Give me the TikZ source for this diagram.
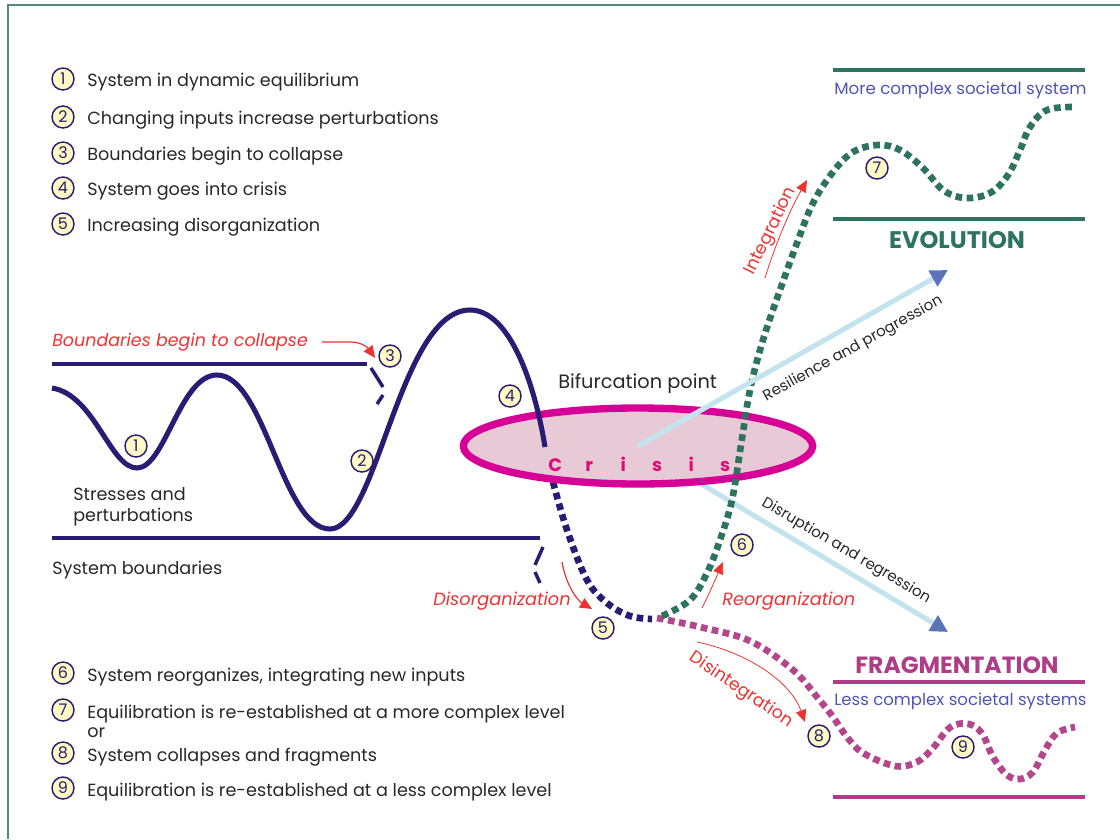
\documentclass[tikz,border=0pt]{standalone}
\usepackage{fontspec}
\setmainfont{Poppins}
\usetikzlibrary{arrows.meta,shapes.geometric}
\definecolor{navyC}{RGB}{42,28,115}
\definecolor{tealC}{RGB}{45,115,95}
\definecolor{frameC}{RGB}{80,140,125}
\definecolor{purpC}{RGB}{180,70,140}
\definecolor{redC}{RGB}{238,50,50}
\definecolor{magC}{RGB}{215,0,150}
\definecolor{pinkC}{RGB}{232,202,215}
\definecolor{crisC}{RGB}{225,10,120}
\definecolor{lblueC}{RGB}{195,228,238}
\definecolor{arrC}{RGB}{90,115,185}
\definecolor{sysC}{RGB}{80,85,180}
\definecolor{circY}{RGB}{255,250,195}
\definecolor{txtC}{RGB}{40,40,40}
\definecolor{fragC}{RGB}{175,60,135}
\tikzset{
  numc/.style={circle, draw=navyC, fill=circY, line width=1.1pt, minimum size=16.5pt, inner sep=0pt, text=navyC, font=\fontsize{12}{12}\selectfont},
  legtxt/.style={anchor=base west, inner sep=0pt, text=txtC, font=\fontsize{13.2}{16}\selectfont},
  redtxt/.style={inner sep=0pt, text=redC, font=\fontsize{13.3}{16}\selectfont\itshape},
  redarrow/.style={draw=redC, line width=0.9pt, -{Triangle[length=9pt,width=8pt]}},
  bound/.style={draw=navyC, line width=2.6pt},
  wave/.style={draw=navyC, line width=3.8pt},
  dots/.style={line width=5pt, dash pattern=on 5pt off 3.4pt},
  blarrow/.style={draw=lblueC, line width=3.8pt, -{Triangle[length=13pt,width=13pt,color=arrC]}},
  levline/.style={line width=2.6pt},
  frameline/.style={draw=frameC, line width=2pt},
  diag/.style={inner sep=0pt, text=txtC, font=\fontsize{11.3}{13}\selectfont}
}
\begin{document}
\begin{tikzpicture}[x=0.75pt,y=-0.75pt]
\useasboundingbox (0,0) rectangle (1120,839);
% frame
\draw[frameline] (1120,5) -- (8,5) -- (8,839);

% legend top
\foreach \n/\y/\t in {1/86/System in dynamic equilibrium, 2/124/Changing inputs increase perturbations, 3/160/Boundaries begin to collapse, 4/195/System goes into crisis, 5/231/Increasing disorganization}{
  \node[numc] (lc\n) at (63,\y-7) {\n};
  \node[legtxt] (lt\n) at (87,\y) {\t};
}
% legend bottom
\foreach \n/\y/\t in {6/681/{System reorganizes, integrating new inputs}, 7/718/Equilibration is re-established at a more complex level, 8/761/System collapses and fragments, 9/796/Equilibration is re-established at a less complex level}{
  \node[numc] (lc\n) at (63,\y-8) {\n};
  \node[legtxt] (lt\n) at (87,\y) {\t};
}
\node[legtxt] (ltor) at (87,737) {or};

% boundaries
\draw[bound] (52,364) -- (367,364);
\draw[bound] (371,368) -- (383,387);
\draw[bound] (383,395) -- (377,404);
\draw[bound] (52,538) -- (540,538);
\draw[bound] (543,547) -- (535,565);
\draw[bound] (535,572) -- (540,583);

% crisis ellipse node
\coordinate (cc) at (638,446);
\coordinate (tipD) at (948,632);
\coordinate (tipR) at (948,270);
\draw[blarrow] (cc) -- (tipD);

% navy dotted
\draw[dots, navyC] plot[smooth, tension=0.6] coordinates {(553,482) (567,530) (587,580) (607,603) (630,616) (652,619)};
% purple dotted
\draw[dots, purpC] plot[smooth, tension=0.6] coordinates {(657,618) (700,627) (750,641) (793,670) (817,697) (833,717) (847,737) (863,753) (895,766) (917,762) (933,748) (947,730) (958,724) (972,725) (983,735) (993,757) (1007,775) (1020,779) (1033,772) (1045,750) (1057,733) (1075,727)};

\node[ellipse, draw=magC, fill=pinkC, line width=5.5pt, minimum width=262pt, minimum height=57pt, inner sep=0pt] (crisis) at (cc) {};

% solid wave
\draw[wave] (52,388) .. controls (95,395) and (110,468) .. (137,468)
  .. controls (165,468) and (180,375) .. (217,375)
  .. controls (265,375) and (282,529) .. (330,529)
  .. controls (377,529) and (400,310) .. (470,310)
  .. controls (510,310) and (535,385) .. (545,447);

% green dotted
\draw[dots, tealC] plot[smooth, tension=0.6] coordinates {(662,616) (690,600) (707,573) (720,540) (732,500) (741,445) (750,390) (763,340) (780,290) (797,243) (813,203) (833,172) (853,152) (878,145) (900,150) (923,168) (943,190) (965,198) (990,193) (1008,175) (1020,150) (1030,127) (1047,110) (1075,107)};

\draw[blarrow] (cc) -- (tipR);

% crisis letters
\node[anchor=base west, inner sep=0pt, text=crisC, font=\fontsize{13.5}{16}\selectfont\bfseries] (crisistxt) at (538,471)
  {\makebox[25.5pt]{C}\makebox[25.5pt]{r}\makebox[25.5pt]{i}\makebox[25.5pt]{s}\makebox[25.5pt]{i}\makebox[25.5pt]{s}};
\node[legtxt, font=\fontsize{14.5}{16}\selectfont] (bif) at (558,388) {Bifurcation point};

% left labels
\node[legtxt] (str1) at (73,500) {Stresses and};
\node[legtxt] (str2) at (73,521) {perturbations};
\node[legtxt] (sysb) at (52,574) {System boundaries};
\node[redtxt, anchor=base west, font=\fontsize{13.1}{16}\selectfont\itshape] (bbc) at (52,346) {Boundaries begin to collapse};

% evolution panel
\draw[levline, tealC] (833,70) -- (1085,70);
\draw[levline, tealC] (833,219) -- (1085,219);
\node[anchor=base west, inner sep=0pt, text=sysC, font=\fontsize{12.5}{16}\selectfont] (mcs) at (834,94) {More complex societal system};
\node[anchor=base, inner sep=0pt, text=tealC, font=\fontsize{18}{20}\selectfont\bfseries] (evo) at (957,248) {EVOLUTION};

% fragmentation panel
\node[anchor=base, inner sep=0pt, text=fragC, font=\fontsize{17.6}{20}\selectfont\bfseries] (frag) at (957,673) {FRAGMENTATION};
\draw[levline, fragC] (833,682) -- (1085,682);
\draw[levline, fragC] (833,797) -- (1085,797);
\node[anchor=base west, inner sep=0pt, text=sysC, font=\fontsize{12.4}{16}\selectfont] (lcs) at (834,705) {Less complex societal systems};

% diagonal labels
\node[diag, rotate=29] (resl) at (853,349) {Resilience and progression};
\node[diag, rotate=-30.5] (disr) at (846,551) {Disruption and regression};

% red labels and arrows
\node[redtxt, anchor=base west] (disorg) at (433,605) {Disorganization};
\node[redtxt, anchor=base west] (reorg) at (722,605) {Reorganization};
\node[redtxt, rotate=64, font=\fontsize{13}{15}\selectfont] (integ) at (771,231) {Integration};
\node[redtxt, rotate=-34, font=\fontsize{13}{15}\selectfont] (disint) at (741,690) {Disintegration};

\coordinate (b0) at (322,342);
\coordinate (b1) at (350,342);
\coordinate (b2) at (375,358);
\draw[redarrow] (b0) -- (b1) .. controls (362,342) and (368,348) .. (b2);
\coordinate (d0) at (562,562);
\coordinate (d1) at (592,609);
\draw[redarrow] (d0) .. controls (566,585) and (577,600) .. (d1);
\coordinate (r0) at (702,608);
\coordinate (r1) at (723,562);
\draw[redarrow, line width=0.6pt] (r0) .. controls (710,592) and (716,578) .. (r1);
\coordinate (i0) at (765,278);
\coordinate (i1) at (807,180);
\draw[redarrow, line width=0.6pt] (i0) .. controls (775,245) and (790,210) .. (i1);
\coordinate (s0) at (697,642);
\coordinate (s1) at (805,722);
\draw[redarrow, line width=0.6pt] (s0) .. controls (745,652) and (790,680) .. (s1);

% numbered circles on diagram
\node[numc] (n1) at (136,446) {1};
\node[numc] (n2) at (362,461) {2};
\node[numc] (n3) at (390,356) {3};
\node[numc] (n4) at (510,396) {4};
\node[numc] (n5) at (603,628) {5};
\node[numc] (n6) at (742,545) {6};
\node[numc] (n7) at (877,168) {7};
\node[numc] (n8) at (819,736) {8};
\node[numc] (n9) at (963,747) {9};
\end{tikzpicture}
\end{document}
